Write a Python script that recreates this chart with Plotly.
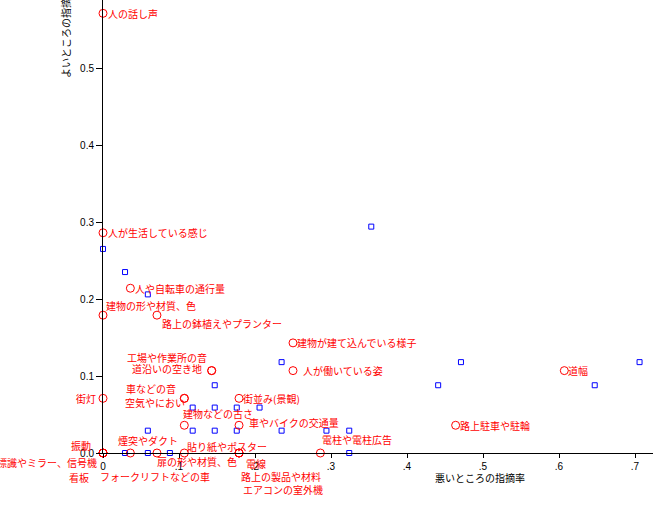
import plotly.graph_objects as go

# ---- data ----
good_labels = [
    "人の話し声", "人が生活している感じ", "人や自転車の通行量", "建物の形や材質、色",
    "路上の鉢植えやプランター", "建物が建て込んでいる様子", "人が働いている姿",
    "工場や作業所の音", "道沿いの空き地", "道幅", "車などの音", "空気やにおい",
    "街灯", "街並み(景観)", "建物などの古さ", "車やバイクの交通量", "路上駐車や駐輪",
    "振動", "標識やミラー、信号機", "看板", "煙突やダクト", "フォークリフトなどの車",
    "扉の形や材質、色", "貼り紙やポスター", "電線", "路上の製品や材料",
    "エアコンの室外機", "電柱や電柱広告",
]
good_x = [0.0, 0.0, 0.036, 0.0, 0.071, 0.250, 0.250, 0.143, 0.143, 0.607, 0.107, 0.107,
          0.0, 0.179, 0.107, 0.179, 0.464, 0.0, 0.0, 0.0, 0.036, 0.0,
          0.071, 0.107, 0.179, 0.179, 0.179, 0.286]
good_y = [0.571, 0.286, 0.214, 0.179, 0.179, 0.143, 0.107, 0.107, 0.107, 0.107, 0.071, 0.071,
          0.071, 0.071, 0.036, 0.036, 0.036, 0.0, 0.0, 0.0, 0.0, 0.0,
          0.0, 0.0, 0.0, 0.0, 0.0, 0.0]

other_x = [0.0, 0.029, 0.059, 0.353, 0.235, 0.471, 0.441, 0.647, 0.706, 0.147,
           0.118, 0.147, 0.176, 0.206, 0.118, 0.147, 0.176, 0.235, 0.294, 0.324,
           0.059, 0.059, 0.029, 0.088, 0.324]
other_y = [0.265, 0.235, 0.206, 0.294, 0.118, 0.118, 0.088, 0.088, 0.118, 0.088,
           0.059, 0.059, 0.059, 0.059, 0.029, 0.029, 0.029, 0.029, 0.029, 0.029,
           0.029, 0.0, 0.0, 0.0, 0.0]

x_tickvals = [0, 0.1, 0.2, 0.3, 0.4, 0.5, 0.6, 0.7]
x_ticktext = ["0", ".1", ".2", ".3", ".4", ".5", ".6", ".7"]
y_tickvals = [0, 0.1, 0.2, 0.3, 0.4, 0.5]
y_ticktext = ["0.0", "0.1", "0.2", "0.3", "0.4", "0.5"]

x_title = "悪いところの指摘率"
y_title = "よいところの指摘率"

# ---- label placement (style): anchor, pixel shift x, pixel shift y (down positive) ----
label_style = [
    ("left", 3, 0), ("left", 3, 0), ("left", 3, 0), ("left", 1, -10),
    ("left", 3, 8), ("left", 2, 0), ("left", 8, 0),
    ("right", -3, -13), ("right", -8, -2), ("left", 2, 0), ("right", -6, -10), ("right", 3, 4),
    ("right", -5, 0), ("left", 2, 0), ("left", -3, -12), ("left", 8, -3), ("left", 2, 0),
    ("right", -10, -8), ("right", -4, 9), ("right", -12, 24), ("left", -14, -13), ("left", -5, 23),
    ("left", -2, 8), ("left", 1, -7), ("left", 5, 10), ("left", 0, 23),
    ("left", 2, 36), ("left", 0, -14),
]

RED = "#ff0000"
BLUE = "#0000ff"
FONT = "Noto Sans CJK JP"

fig = go.Figure()
fig.add_trace(go.Scatter(
    x=other_x, y=other_y, mode="markers", cliponaxis=False,
    marker=dict(symbol="square-open", size=5, color=BLUE, line=dict(width=1, color=BLUE)),
    hoverinfo="skip", showlegend=False,
))
fig.add_trace(go.Scatter(
    x=good_x, y=good_y, mode="markers", cliponaxis=False,
    marker=dict(symbol="circle-open", size=8, color=RED, line=dict(width=1, color=RED)),
    text=good_labels, showlegend=False,
))

for lab, gx, gy, (anc, dx, dy) in zip(good_labels, good_x, good_y, label_style):
    fig.add_annotation(
        x=gx, y=gy, xref="x", yref="y", text=lab, showarrow=False,
        xanchor=anc, yanchor="middle", xshift=dx, yshift=-dy,
        font=dict(family=FONT, size=10, color=RED),
    )

W, H = 653, 506
L, B = 103, 53
pw, ph = W - L, H - B
fig.add_annotation(
    x=(65 - L) / pw, y=(H - B - 33) / ph, xref="paper", yref="paper",
    text=y_title, textangle=-90, showarrow=False, xanchor="center", yanchor="middle",
    font=dict(family=FONT, size=10, color="black"),
)
fig.add_annotation(
    x=(480 - L) / pw, y=(H - B - 477) / ph, xref="paper", yref="paper",
    text=x_title, showarrow=False, xanchor="center", yanchor="middle",
    font=dict(family=FONT, size=10, color="black"),
)

fig.update_layout(
    width=W, height=H,
    margin=dict(l=L, r=0, t=0, b=B, pad=0),
    paper_bgcolor="white", plot_bgcolor="white",
    font=dict(family="Liberation Sans", size=10, color="black"),
    xaxis=dict(range=[0, pw / 760], tickvals=x_tickvals, ticktext=x_ticktext,
               showgrid=False, zeroline=False, showline=True, linecolor="black", linewidth=1,
               ticks="outside", ticklen=4, tickcolor="black", tickfont=dict(size=10)),
    yaxis=dict(range=[0, ph / 770], tickvals=y_tickvals, ticktext=y_ticktext,
               showgrid=False, zeroline=False, showline=True, linecolor="black", linewidth=1,
               ticks="outside", ticklen=6, tickcolor="black", tickfont=dict(size=10)),
)

fig.write_html(
    "out.html",
    config={"displayModeBar": False},
    post_script="document.body.style.margin='0';document.body.style.overflow='hidden';",
)
